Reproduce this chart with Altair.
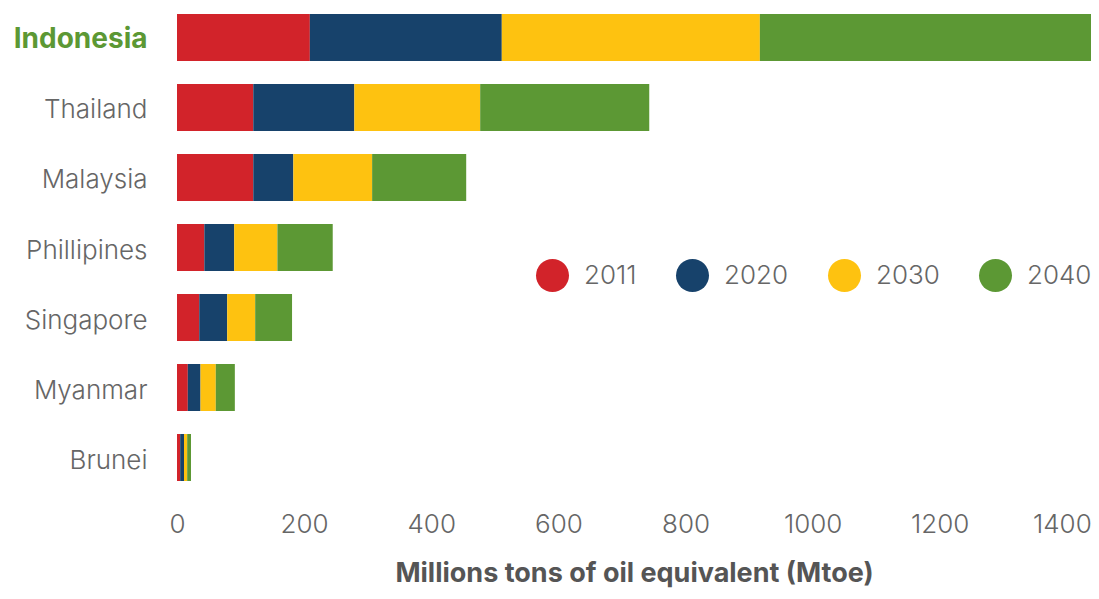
import altair as alt
import pandas as pd

countries = ["Indonesia", "Thailand", "Malaysia", "Phillipines", "Singapore", "Myanmar", "Brunei"]
years = ["2011", "2020", "2030", "2040"]
v2011 = [209, 120, 120, 43, 35, 17, 5]
v2020 = [302, 159, 63, 47, 44, 20, 6]
v2030 = [406, 198, 124, 68, 44, 24, 5]
v2040 = [534, 266, 148, 87, 58, 30, 6]
colors = ["#d2232a", "#17426b", "#fec210", "#5c9834"]
ticks = [0, 200, 400, 600, 800, 1000, 1200, 1400]

series = [v2011, v2020, v2030, v2040]
rows = []
for yi, (yr, vals) in enumerate(zip(years, series)):
    for c, v in zip(countries, vals):
        rows.append({"country": c, "year": yr, "value": v, "ord": yi})
df = pd.DataFrame(rows)

FONT = "Inter"

chart = alt.Chart(df).mark_bar(clip=True).encode(
    y=alt.Y("country:N", sort=countries,
            scale=alt.Scale(paddingInner=0.3286, paddingOuter=0.0857),
            axis=alt.Axis(title=None, domain=False, ticks=False, grid=False,
                          labelPadding=30, labelFont=FONT, labelOffset=3,
                          labelFontSize={"expr": "datum.value == 'Indonesia' ? 28 : 26"},
                          labelFontWeight={"expr": "datum.value == 'Indonesia' ? 'bold' : 300"},
                          labelColor={"expr": "datum.value == 'Indonesia' ? '#5c9834' : '#666666'"})),
    x=alt.X("value:Q", stack="zero",
            scale=alt.Scale(domain=[0, 1438], nice=False),
            axis=alt.Axis(title="Millions tons of oil equivalent (Mtoe)", domain=False, ticks=False,
                          grid=False, values=ticks, format="d", labelFlush=False,
                          labelOffset={"expr": "datum.value == 1400 ? -5 : 0"},
                          labelFont=FONT, labelFontSize=26, labelFontWeight=300,
                          labelColor="#666666", labelPadding=24,
                          titleFont=FONT, titleFontSize=27, titleFontWeight="bold",
                          titleColor="#555555", titlePadding=23)),
    color=alt.Color("year:N", sort=years,
                    scale=alt.Scale(domain=years, range=colors),
                    legend=alt.Legend(title=None, orient="none", legendX=359, legendY=251,
                                      direction="horizontal", symbolType="circle",
                                      symbolSize=1089, symbolStrokeWidth=0,
                                      labelFont=FONT, labelFontSize=26, labelFontWeight=300,
                                      labelColor="#666666",
                                      labelOffset=15, columnPadding=39)),
    order=alt.Order("ord:Q"),
).properties(
    width=914, height=479,
    autosize=alt.AutoSizeParams(type="none"),
    padding={"left": 169, "top": 0, "right": 0, "bottom": 104},
).configure_view(stroke=None)

chart.save("out.html", embed_options={"renderer": "svg", "actions": False})
